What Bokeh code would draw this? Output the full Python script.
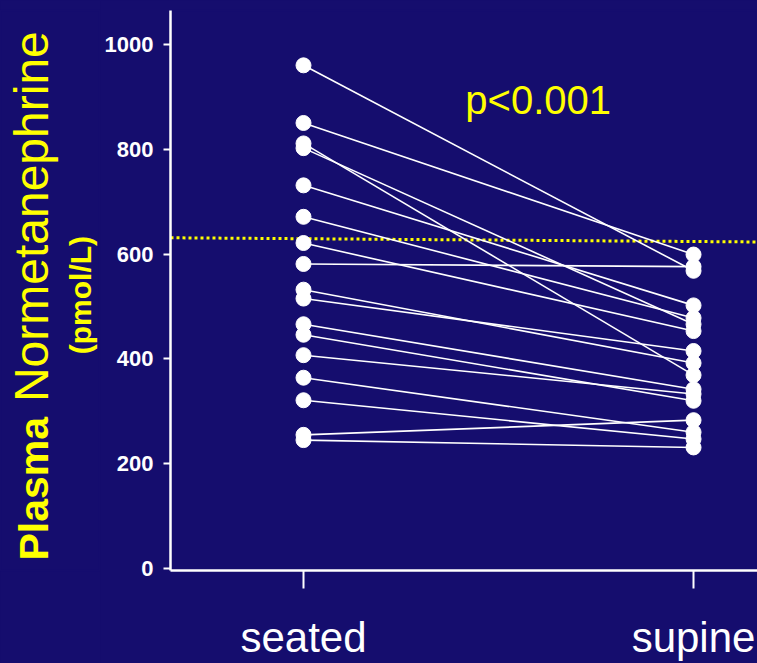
import math
from bokeh.plotting import figure
from bokeh.layouts import row
from bokeh.models import Range1d, FixedTicker, Label, ColumnDataSource
from bokeh.core.properties import value
from bokeh.embed import file_html
from bokeh.resources import INLINE

# ---- data ----
categories = ["seated", "supine"]
seated = [960, 850, 811, 802, 731, 671, 621, 581, 532, 515, 466, 446, 407, 364, 321, 255, 245]
supine = [568, 599, 369, 466, 502, 478, 453, 576, 392, 415, 342, 320, 333, 260, 247, 283, 231]
y_ticks = [0, 200, 400, 600, 800, 1000]
reference_level = [631, 623]   # dotted yellow reference line (left, right)
p_text = "p<0.001"
title_bold = "Plasma"
title_main = "Normetanephrine"
title_units = "(pmol/L)"

BG = "#150D6E"
YEL = "#FFFF00"
FONT = "Liberation Sans"
H = 663
TOP, BOTTOM = 10, 91

x_pos = {c: i + 1 for i, c in enumerate(categories)}


def style(fig):
    fig.background_fill_color = BG
    fig.border_fill_color = BG
    fig.outline_line_color = BG
    fig.outline_line_width = 2
    fig.xgrid.visible = False
    fig.ygrid.visible = False


# ---------- left strip holding the rotated y title (pixel-like coordinates) ----------
t = figure(width=100, height=H, output_backend="svg", toolbar_location=None,
           x_range=Range1d(0, 100), y_range=Range1d(BOTTOM, H - TOP),
           x_axis_location=None, y_axis_location=None,
           min_border_left=0, min_border_right=0, min_border_top=TOP, min_border_bottom=BOTTOM)
style(t)
t.text(x=[33.5], y=[H - 562], text=[title_bold], angle=math.pi / 2, text_color=YEL,
       text_font=value(FONT), text_font_style="bold", text_font_size="41px",
       text_baseline="middle", text_align="left")
t.text(x=[31], y=[H - 403], text=[title_main], angle=math.pi / 2, text_color=YEL,
       text_font=value(FONT), text_font_size="48px",
       text_baseline="middle", text_align="left")
t.text(x=[80], y=[H - 355], text=[title_units], angle=math.pi / 2, text_color=YEL,
       text_font=value(FONT), text_font_style="bold", text_font_size="30px",
       text_baseline="middle", text_align="left")

# ---------- main chart ----------
p = figure(width=657, height=H, output_backend="svg", toolbar_location=None,
           x_range=Range1d(0.659, 2.164), y_range=Range1d(-3.8, 1064.6),
           min_border_left=70, min_border_right=0, min_border_top=TOP, min_border_bottom=BOTTOM)
style(p)

p.yaxis.ticker = FixedTicker(ticks=y_ticks)
p.yaxis.minor_tick_line_color = None
p.yaxis.axis_line_color = "white"
p.yaxis.axis_line_width = 2.5
p.yaxis.major_tick_line_color = "white"
p.yaxis.major_tick_line_width = 2
p.yaxis.major_tick_out = 7
p.yaxis.major_tick_in = 0
p.yaxis.major_label_text_color = "white"
p.yaxis.major_label_text_font = FONT
p.yaxis.major_label_text_font_style = "bold"
p.yaxis.major_label_text_font_size = "22px"
p.yaxis.major_label_standoff = 10

p.xaxis.ticker = FixedTicker(ticks=[x_pos[c] for c in categories])
p.xaxis.major_label_overrides = {x_pos[c]: c for c in categories}
p.xaxis.minor_tick_line_color = None
p.xaxis.axis_line_color = "white"
p.xaxis.axis_line_width = 2.5
p.xaxis.major_tick_line_color = "white"
p.xaxis.major_tick_line_width = 2
p.xaxis.major_tick_out = 18
p.xaxis.major_tick_in = 0
p.xaxis.major_label_text_color = "white"
p.xaxis.major_label_text_font = FONT
p.xaxis.major_label_text_font_size = "42px"
p.xaxis.major_label_standoff = 25

# reference dotted line
p.segment(x0=[p.x_range.start], y0=[reference_level[0]], x1=[p.x_range.end], y1=[reference_level[1]],
          line_color=YEL, line_width=3, line_dash="3 3")

# paired lines
src = ColumnDataSource(dict(x0=[x_pos["seated"]] * len(seated), y0=seated,
                            x1=[x_pos["supine"]] * len(supine), y1=supine))
p.segment(x0="x0", y0="y0", x1="x1", y1="y1", source=src, line_color="white", line_width=1.6)

# points
p.scatter([x_pos["seated"]] * len(seated), seated, size=15, color="white")
p.scatter([x_pos["supine"]] * len(supine), supine, size=15, color="white")

# p-value text
p.add_layout(Label(x=1.415, y=893, text=p_text, text_color=YEL, text_font=FONT,
                   text_font_size="40px", text_baseline="middle"))

layout = row(t, p, spacing=0, styles={"background-color": BG})
open("out.html", "w").write(file_html(layout, INLINE))
